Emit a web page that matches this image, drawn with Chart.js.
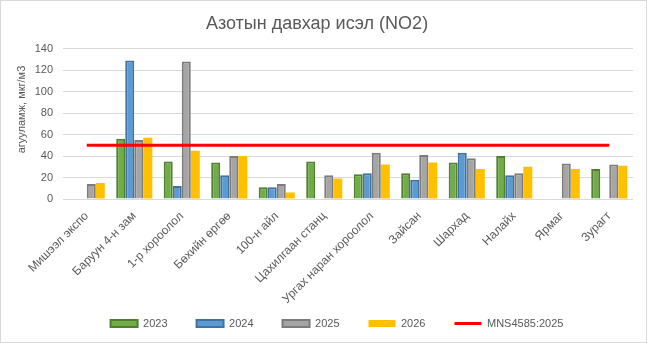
<!DOCTYPE html>
<html>
<head>
<meta charset="utf-8">
<script src="https://cdn.jsdelivr.net/npm/chart.js@4"></script>
<style>
  body { margin: 0; background: #fff; }
  #wrap { width: 647px; height: 343px; }
</style>
</head>
<body>
<div id="wrap"><canvas id="grafik" width="647" height="343"></canvas></div>
<script>
const labels = ['Мишээл экспо', 'Баруун 4-н зам', '1-р хороолол', 'Бөхийн өргөө', '100-н айл',
    'Цахилгаан станц', 'Ургах наран хороолол', 'Зайсан', 'Шархад', 'Налайх', 'Ярмаг', 'Зурагт'];
const v2023 = [null, 56, 35, 34, 11, 35, 23, 24, 34, 40, null, 28];
const v2024 = [null, 129, 12, 22, 11, null, 24, 18, 43, 22, null, null];
const v2025 = [14, 55, 128, 40, 14, 22, 43, 41, 38, 24, 33, 32];
const v2026 = [15, 57, 45, 40, 6, 19, 32, 34, 28, 30, 28, 31];
const norm = labels.map(() => 50);
const yTicks = [0, 20, 40, 60, 80, 100, 120, 140];
const yTitle = 'агууламж, мкг/м3';

const grey = '#595959';
const fontName = "'Liberation Sans', Arial, sans-serif";

function bar(label, data, fill, border, bw) {
    return {
        type: 'bar',
        label: label,
        data: data,
        backgroundColor: fill,
        borderColor: border,
        borderWidth: bw,
        order: 1,
        pointStyle: 'rect'
    };
}

const data = {
    labels: labels,
    datasets: [
        bar('2023', v2023, '#70AD47', '#507E32', 2),
        bar('2024', v2024, '#5B9BD5', '#41719C', 2),
        bar('2025', v2025, '#A5A5A5', '#7C7C7C', 2),
        bar('2026', v2026, '#FFC000', '#FFC000', 0),
        {
            type: 'line',
            label: 'MNS4585:2025',
            data: norm,
            borderColor: '#FF0000',
            backgroundColor: '#FF0000',
            borderWidth: 3,
            pointRadius: 0,
            order: 0,
            pointStyle: 'line'
        }
    ]
};

// white background + thin grey frame, like the office chart
const frame = {
    id: 'frame',
    beforeDraw(chart) {
        const c = chart.ctx;
        c.save();
        c.fillStyle = '#fff';
        c.fillRect(0, 0, chart.width, chart.height);
        c.strokeStyle = '#D9D9D9';
        c.lineWidth = 1;
        c.strokeRect(0.5, 0.5, chart.width - 1, chart.height - 1);
        c.restore();
    },
    afterLayout(chart) {
        // legend row sits a bit right of centre in the original
        chart.legend.left += 20;
        chart.legend.right += 20;
    },
    afterDraw(chart) {
        // axis title sits above the middle of the axis in the original
        const c = chart.ctx;
        const a = chart.chartArea;
        c.save();
        c.translate(22, a.top + (a.bottom - a.top) * 0.405);
        c.rotate(-Math.PI / 2);
        c.fillStyle = grey;
        c.font = '11px ' + fontName;
        c.textAlign = 'center';
        c.textBaseline = 'middle';
        c.fillText(yTitle, 0, 0);
        c.restore();
    }
};

const config = {
    data: data,
    plugins: [frame],
    options: {
        responsive: false,
        animation: false,
        layout: { padding: { left: 1, right: 14, top: 1, bottom: 4 } },
        datasets: { bar: { categoryPercentage: 0.76, barPercentage: 1 } },
        plugins: {
            tooltip: { enabled: false },
            title: {
                display: true,
                text: 'Азотын давхар исэл (NO2)',
                color: grey,
                font: { family: fontName, size: 18, weight: 'normal' },
                padding: { top: 12, bottom: 14 }
            },
            legend: {
                position: 'bottom',
                labels: {
                    color: grey,
                    font: { family: fontName, size: 11 },
                    usePointStyle: true,
                    pointStyleWidth: 27,
                    boxHeight: 7,
                    padding: 29,
                    generateLabels(chart) {
                        return chart.data.datasets.map((ds, i) => ({
                            text: ds.label,
                            fillStyle: ds.backgroundColor,
                            strokeStyle: ds.borderColor,
                            lineWidth: ds.type === 'line' ? 3 : ds.borderWidth,
                            pointStyle: ds.pointStyle,
                            fontColor: grey,
                            datasetIndex: i
                        }));
                    }
                }
            }
        },
        scales: {
            x: {
                grid: { display: false, drawTicks: false },
                border: { display: false },
                ticks: {
                    color: grey,
                    font: { family: fontName, size: 12 },
                    minRotation: 45,
                    maxRotation: 45,
                    autoSkip: false,
                    padding: 10
                },
                afterFit(scale) {
                    scale.height = 90;
                    // long rotated labels run into the legend band, don't clip them
                    scale._computeLabelArea = () => undefined;
                }
            },
            y: {
                min: 0,
                max: 140,
                grid: { color: '#D9D9D9', drawTicks: false },
                border: { display: false },
                afterBuildTicks(scale) { scale.ticks = yTicks.map(v => ({ value: v })); },
                ticks: {
                    color: grey,
                    font: { family: fontName, size: 11 },
                    padding: 10
                },
                afterFit(scale) { scale.width = 62; }
            }
        }
    }
};

const myChart = new Chart(document.getElementById('grafik'), config);
</script>
</body>
</html>
